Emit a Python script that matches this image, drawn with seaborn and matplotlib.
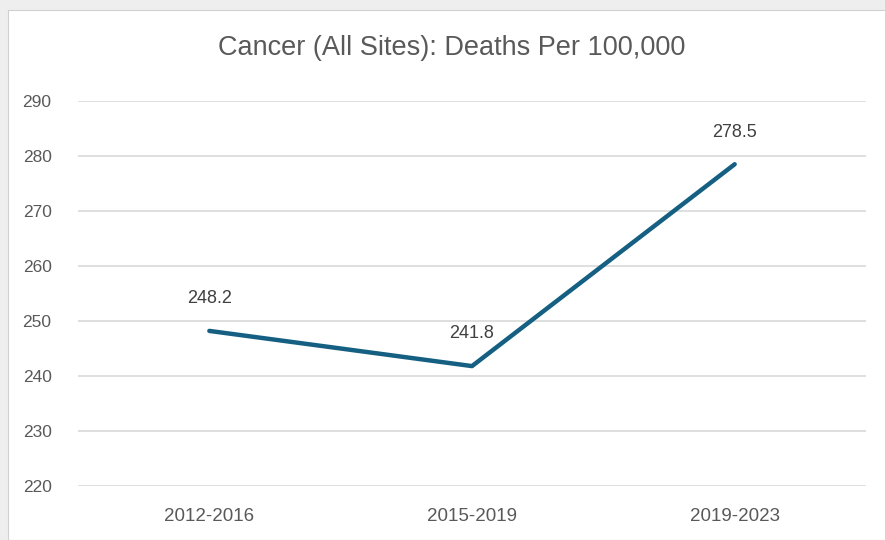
import pandas as pd
import matplotlib.pyplot as plt
from matplotlib.patches import Rectangle
import seaborn as sns

# 数据
periods = ['2012-2016', '2015-2019', '2019-2023']
deaths = [248.2, 241.8, 278.5]
y_ticks = [220, 230, 240, 250, 260, 270, 280, 290]

df = pd.DataFrame({'period': periods, 'deaths': deaths})

sns.set_theme(style='white')
plt.rcParams['font.family'] = ['Liberation Sans', 'DejaVu Sans']

fig = plt.figure(figsize=(8.85, 5.4), dpi=100, facecolor='#eeeeee')
# white chart area with thin border, like the Excel frame
fig.patches.append(Rectangle((8 / 885, 0), 1, 1 - 10 / 540, transform=fig.transFigure,
                             facecolor='white', edgecolor='#d0d0d0', linewidth=0.8, zorder=-5))

ax = fig.add_axes([78 / 885, 1 - 486 / 540, (866 - 78) / 885, (486 - 101) / 540])
ax.set_facecolor('white')
ax.patch.set_alpha(0)

sns.lineplot(data=df, x='period', y='deaths', color='#156082', linewidth=3.2,
             solid_capstyle='round', ax=ax, zorder=3)

for i, v in enumerate(deaths):
    ax.annotate(f'{v}', (i, v), xytext=(0, 17), textcoords='offset points',
                ha='center', va='bottom', fontsize=13, color='#404040')

ax.set_xlim(-0.5, len(periods) - 0.5)
ax.set_ylim(min(y_ticks), max(y_ticks))
ax.set_yticks(y_ticks)
ax.grid(axis='y', color='#d9d9d9', linewidth=1.2)
ax.grid(axis='x', visible=False)
for s in ax.spines.values():
    s.set_visible(False)
ax.tick_params(axis='y', length=0, pad=19, labelsize=12.5, labelcolor='#595959')
ax.tick_params(axis='x', length=0, pad=16, labelsize=13.5, labelcolor='#595959')
ax.set_xlabel('')
ax.set_ylabel('')

fig.text(452 / 885, 1 - 48 / 540, 'Cancer (All Sites): Deaths Per 100,000', ha='center', va='center',
         fontsize=19.5, color='#595959')

fig.savefig('out.png', dpi=100, facecolor=fig.get_facecolor())
